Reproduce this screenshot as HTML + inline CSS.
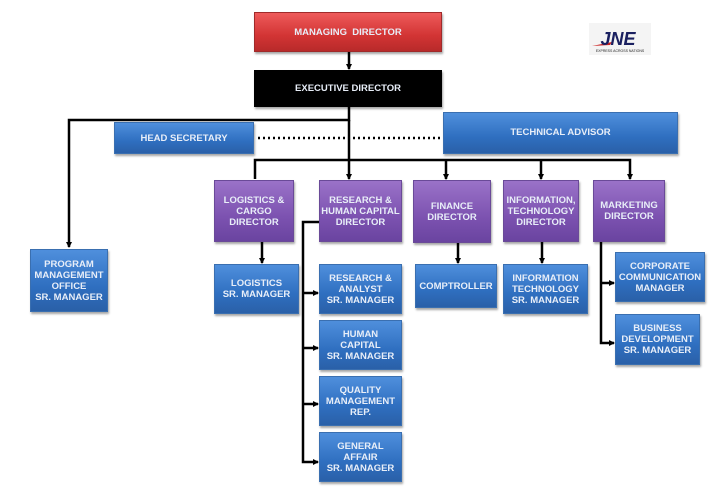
<!DOCTYPE html>
<html><head><meta charset="utf-8"><style>
body{margin:0;width:726px;height:496px;background:#fff;position:relative;overflow:hidden;font-family:"Liberation Sans",sans-serif}
.b{position:absolute;display:flex;align-items:center;justify-content:center;text-align:center;color:#e8eef8;font-weight:bold;font-size:9.5px;line-height:11px;box-sizing:border-box;box-shadow:1px 2px 2px rgba(0,0,0,.35)}
.bl{background:linear-gradient(#4f8fdc,#2f6fc0 60%,#2a60a8);border:1px solid #3a6fb0}
.pu{background:linear-gradient(#9a72c8,#7c52b0 60%,#6a44a0);border:1px solid #6a4a98}
svg{position:absolute;left:0;top:0}
</style></head><body>
<svg width="726" height="496">
<defs><marker id="a" markerWidth="6" markerHeight="6" refX="5" refY="3" orient="auto" markerUnits="userSpaceOnUse"><path d="M0,0L6,3L0,6z" fill="#000"/></marker></defs>
<g stroke="#000" stroke-width="2.5" fill="none">
<line x1="349" y1="52" x2="349" y2="69" marker-end="url(#a)"/>
<polyline points="349,107 349,120 69,120 69,247" marker-end="url(#a)"/>
<line x1="349" y1="120" x2="349" y2="160"/>
<polyline points="255,179 255,160 630,160 630,179" marker-end="url(#a)"/>
<line x1="349" y1="160" x2="349" y2="179" marker-end="url(#a)"/>
<line x1="446" y1="160" x2="446" y2="179" marker-end="url(#a)"/>
<line x1="541" y1="160" x2="541" y2="179" marker-end="url(#a)"/>
<line x1="262" y1="242" x2="262" y2="263" marker-end="url(#a)"/>
<line x1="458" y1="243" x2="458" y2="263" marker-end="url(#a)"/>
<line x1="542" y1="242" x2="542" y2="263" marker-end="url(#a)"/>
<polyline points="319,222 303,222 303,462 318,462" marker-end="url(#a)"/>
<line x1="303" y1="293" x2="318" y2="293" marker-end="url(#a)"/>
<line x1="303" y1="348" x2="318" y2="348" marker-end="url(#a)"/>
<line x1="303" y1="404" x2="318" y2="404" marker-end="url(#a)"/>
<polyline points="601,242 601,343 614,343" marker-end="url(#a)"/>
<line x1="601" y1="283" x2="614" y2="283" marker-end="url(#a)"/>
</g>
<line x1="258" y1="138" x2="443" y2="138" stroke="#000" stroke-width="2.5" stroke-dasharray="2,3"/>
<rect x="589" y="23" width="62" height="32" fill="#f4f4f4"/>
<path d="M592,46 L612,42 L610,45z" fill="#c22"/>
<text x="618" y="45" font-family="Liberation Sans" font-weight="bold" font-style="italic" font-size="18" fill="#1a2060" text-anchor="middle">JNE</text>
<text x="620" y="52" font-family="Liberation Sans" font-size="3.5" fill="#222" text-anchor="middle">EXPRESS ACROSS NATIONS</text>
</svg>
<div class="b" style="left:254px;top:12px;width:188px;height:40px;background:linear-gradient(#ee5a5a,#d23434 60%,#b82a2a);border:1px solid #a02a2a">MANAGING&nbsp; DIRECTOR</div>
<div class="b" style="left:254px;top:70px;width:188px;height:37px;background:#000">EXECUTIVE DIRECTOR</div>
<div class="b bl" style="left:114px;top:122px;width:140px;height:32px">HEAD SECRETARY</div>
<div class="b bl" style="left:443px;top:112px;width:235px;height:42px;padding-bottom:2px">TECHNICAL ADVISOR</div>
<div class="b bl" style="left:30px;top:249px;width:78px;height:63px">PROGRAM<br>MANAGEMENT<br>OFFICE<br>SR. MANAGER</div>
<div class="b pu" style="left:214px;top:180px;width:80px;height:62px">LOGISTICS &amp;<br>CARGO<br>DIRECTOR</div>
<div class="b pu" style="left:319px;top:180px;width:83px;height:62px">RESEARCH &amp;<br>HUMAN CAPITAL<br>DIRECTOR</div>
<div class="b pu" style="left:413px;top:180px;width:78px;height:63px">FINANCE<br>DIRECTOR</div>
<div class="b pu" style="left:503px;top:180px;width:76px;height:62px">INFORMATION,<br>TECHNOLOGY<br>DIRECTOR</div>
<div class="b pu" style="left:593px;top:180px;width:72px;height:62px">MARKETING<br>DIRECTOR</div>
<div class="b bl" style="left:214px;top:264px;width:85px;height:50px">LOGISTICS<br>SR. MANAGER</div>
<div class="b bl" style="left:319px;top:264px;width:83px;height:50px">RESEARCH &amp;<br>ANALYST<br>SR. MANAGER</div>
<div class="b bl" style="left:319px;top:320px;width:83px;height:50px">HUMAN<br>CAPITAL<br>SR. MANAGER</div>
<div class="b bl" style="left:319px;top:376px;width:83px;height:50px">QUALITY<br>MANAGEMENT<br>REP.</div>
<div class="b bl" style="left:319px;top:432px;width:83px;height:50px">GENERAL<br>AFFAIR<br>SR. MANAGER</div>
<div class="b bl" style="left:415px;top:264px;width:82px;height:44px">COMPTROLLER</div>
<div class="b bl" style="left:503px;top:264px;width:85px;height:50px">INFORMATION<br>TECHNOLOGY<br>SR. MANAGER</div>
<div class="b bl" style="left:615px;top:252px;width:90px;height:50px">CORPORATE<br>COMMUNICATION<br>MANAGER</div>
<div class="b bl" style="left:615px;top:314px;width:85px;height:51px">BUSINESS<br>DEVELOPMENT<br>SR. MANAGER</div>
</body></html>
